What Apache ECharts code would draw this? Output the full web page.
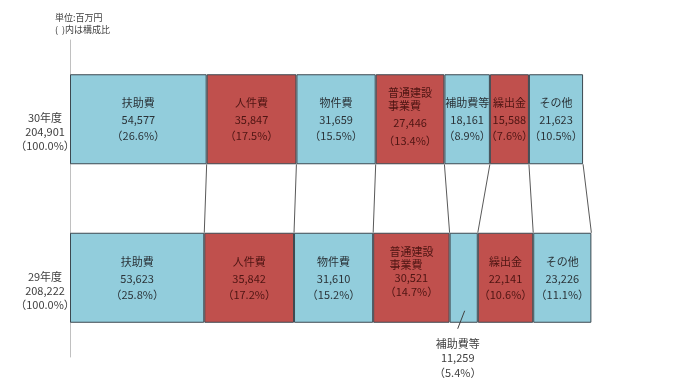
<!DOCTYPE html>
<html>
<head>
<meta charset="utf-8">
<script src="https://cdn.jsdelivr.net/npm/echarts@6/dist/echarts.min.js"></script>
<style>html,body{margin:0;padding:0;background:#fff;}#c{width:700px;height:387px;}</style>
</head>
<body>
<div id="c"></div>
<script>
const years = ['29年度', '30年度'];
const categories = ['扶助費', '人件費', '物件費', '普通建設事業費', '補助費等', '繰出金', 'その他'];
const categoryLabels = ['扶助費', '人件費', '物件費', '普通建設\n事業費', '補助費等', '繰出金', 'その他'];
const values29 = [53623, 35842, 31610, 30521, 11259, 22141, 23226];
const values30 = [54577, 35847, 31659, 27446, 18161, 15588, 21623];
const pct29 = [25.8, 17.2, 15.2, 14.7, 5.4, 10.6, 11.1];
const pct30 = [26.6, 17.5, 15.5, 13.4, 8.9, 7.6, 10.5];
const totals = [208222, 204901];
const totalPct = ['100.0', '100.0'];

const BLUE = '#92CDDC', RED = '#C0504D';
const fillColors = [BLUE, RED, BLUE, RED, BLUE, RED, BLUE];
const textColors = ['#2b3338', '#4e1513', '#2b3338', '#4e1513', '#2b3338', '#4e1513', '#2b3338'];
const FONT = '"Noto Sans CJK JP", "Noto Sans", sans-serif';
const BAR_W = 90;

function fmt(n) { return n.toLocaleString('en-US'); }

function nameLines(label) {
  const parts = label.split('\n');
  const maxLen = Math.max(...parts.map(p => p.length));
  return parts.map(p => '{n|' + p + '\u3000'.repeat(maxLen - p.length) + '}').join('\n');
}

function makeLabel(i, row) {
  const vals = row === 0 ? values29 : values30;
  const pcts = row === 0 ? pct29 : pct30;
  const multi = categoryLabels[i].indexOf('\n') >= 0;
  const color = textColors[i];
  const text = nameLines(categoryLabels[i]) + '\n{v|' + fmt(vals[i]) + '}\n{p|（' + pcts[i].toFixed(1) + '%）}';
  const lbl = {
    show: true,
    position: 'inside',
    formatter: text,
    fontFamily: FONT,
    color: color,
    rich: {
      n: { fontFamily: FONT, fontSize: 11, color: color, lineHeight: 18 },
      v: { fontFamily: FONT, fontSize: 11, color: color, lineHeight: 16 },
      p: { fontFamily: FONT, fontSize: 11, color: color, lineHeight: 16 }
    }
  };
  if (multi && row === 1) {
    lbl.rich.n.lineHeight = 13; lbl.rich.v.lineHeight = 22; lbl.rich.p.lineHeight = 14;
    lbl.offset = [0, -2];
  }
  if (multi && row === 0) {
    lbl.rich.n.lineHeight = 13; lbl.rich.v.lineHeight = 13; lbl.rich.p.lineHeight = 15;
    lbl.offset = [0, -5];
  }
  if (row === 0 && categories[i] === '補助費等') {
    lbl.position = 'bottom';
    lbl.distance = 14;
    lbl.offset = [-6, 0];
    lbl.color = '#404040';
    lbl.rich.n.color = lbl.rich.v.color = lbl.rich.p.color = '#404040';
    lbl.rich.n.lineHeight = 14; lbl.rich.v.lineHeight = 14; lbl.rich.p.lineHeight = 16;
  }
  return lbl;
}

const series = categories.map((c, i) => ({
  name: c,
  type: 'bar',
  stack: 'total',
  barWidth: BAR_W,
  itemStyle: { color: fillColors[i], borderColor: '#3c4850', borderWidth: 1 },
  emphasis: { disabled: true },
  z: 2,
  data: [
    { value: values29[i], label: makeLabel(i, 0) },
    { value: values30[i], label: makeLabel(i, 1) }
  ]
}));

// connectors between cumulative boundaries of both years
const connData = [];
let c29 = 0, c30 = 0;
for (let i = 0; i < categories.length; i++) {
  c29 += values29[i]; c30 += values30[i];
  connData.push([c30, c29, 0]);
}
series.push({
  type: 'custom',
  silent: true,
  z: 1,
  encode: { x: [0, 1], y: 2 },
  renderItem: function (params, api) {
    const p1 = api.coord([api.value(0), 1]);
    const p2 = api.coord([api.value(1), 0]);
    return {
      type: 'line',
      shape: { x1: p1[0], y1: p1[1] + BAR_W / 2, x2: p2[0], y2: p2[1] - BAR_W / 2 },
      style: { stroke: '#595959', lineWidth: 1 }
    };
  },
  data: connData
});

// leader line for the small 補助費等 segment of 29年度
const hIdx = categories.indexOf('補助費等');
let before = 0;
for (let i = 0; i < hIdx; i++) before += values29[i];
series.push({
  type: 'custom',
  silent: true,
  z: 3,
  encode: { x: 0, y: 1 },
  renderItem: function (params, api) {
    const p = api.coord([api.value(0), 0]);
    return {
      type: 'line',
      shape: { x1: p[0] + 1, y1: p[1] + 33, x2: p[0] - 6, y2: p[1] + 51 },
      style: { stroke: '#404040', lineWidth: 1 }
    };
  },
  data: [[before + values29[hIdx] / 2, 0]]
});

const chart = echarts.init(document.getElementById('c'), null, { renderer: 'canvas' });
chart.setOption({
  animation: false,
  backgroundColor: '#ffffff',
  title: {
    text: '単位:百万円\n(  )内は構成比',
    left: 55, top: 12, padding: 0,
    textStyle: { fontFamily: FONT, fontSize: 9, fontWeight: 'normal', color: '#404040', lineHeight: 12 }
  },
  grid: { left: 70, top: 40, width: 626, height: 317, containLabel: false },
  xAxis: { type: 'value', min: 0, max: 250000, show: false },
  yAxis: {
    type: 'category',
    data: years,
    axisLine: { show: true, lineStyle: { color: '#c0c0c0', width: 1 } },
    axisTick: { show: false },
    splitLine: { show: false },
    axisLabel: {
      margin: 25,
      align: 'center',
      fontFamily: FONT,
      fontSize: 11,
      color: '#404040',
      formatter: function (v, idx) {
        return '{s| }\n{t|' + v + '}\n{t|' + fmt(totals[idx]) + '}\n{t|（' + totalPct[idx] + '%）}';
      },
      rich: {
        s: { fontSize: 11, lineHeight: 26 },
        t: { fontFamily: FONT, fontSize: 11, color: '#404040', lineHeight: 14 }
      }
    }
  },
  series: series
});
</script>
</body>
</html>
